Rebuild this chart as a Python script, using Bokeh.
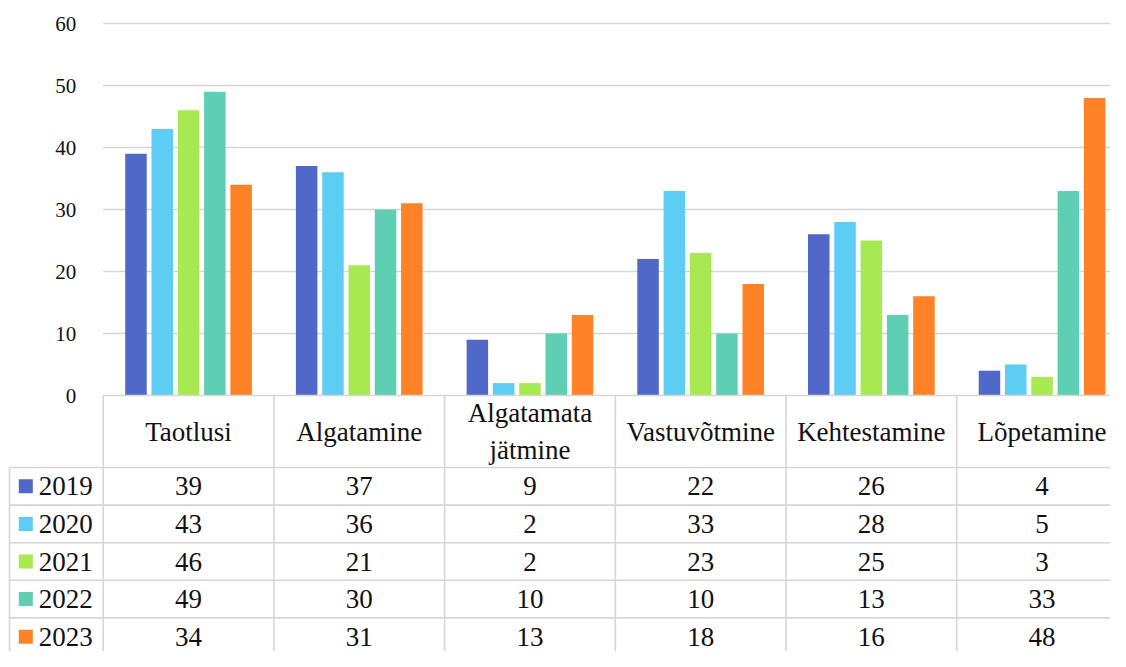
from bokeh.plotting import figure
from bokeh.models import ColumnDataSource, Range1d, LinearAxis, FixedTicker
from bokeh.core.properties import value
from bokeh.embed import file_html
from bokeh.resources import INLINE

# ---------------- data ----------------
CATEGORIES = ["Taotlusi", "Algatamine", "Algatamata\njätmine", "Vastuvõtmine", "Kehtestamine", "Lõpetamine"]
YEARS = ["2019", "2020", "2021", "2022", "2023"]
V2019 = [39, 37, 9, 22, 26, 4]
V2020 = [43, 36, 2, 33, 28, 5]
V2021 = [46, 21, 2, 23, 25, 3]
V2022 = [49, 30, 10, 10, 13, 33]
V2023 = [34, 31, 13, 18, 16, 48]
SERIES = [V2019, V2020, V2021, V2022, V2023]
Y_TICKS = [0, 10, 20, 30, 40, 50, 60]

# ---------------- style / layout ----------------
COLORS = ["#5068C8", "#5DCDF3", "#A7E950", "#5ECFB2", "#FF8226"]
FONT = "Liberation Serif"
TEXT_COLOR = "#111111"
LINE_COLOR = "#D6D6D6"

W, H = 1110, 651
CAT_PX = 170.7           # pixels per category
PX_PER_UNIT = 6.2        # pixels per value unit
LEFT_PX = 102.7          # frame-left to first category
TOP_PX = 395.0           # frame-top to value zero
X0 = -LEFT_PX / CAT_PX
X1 = X0 + W / CAT_PX
Y1 = TOP_PX / PX_PER_UNIT
Y0 = Y1 - H / PX_PER_UNIT

HEADER_H = 72.0 / PX_PER_UNIT
ROW_H = 37.6 / PX_PER_UNIT
LEFT_COL_X = X0 + 9.0 / CAT_PX
BAR_STEP = 26.3 / CAT_PX
BAR_W = 21.5 / CAT_PX

p = figure(width=W, height=H, output_backend="svg", toolbar_location=None,
           x_range=Range1d(X0, X1), y_range=Range1d(Y0, Y1),
           x_axis_location=None, y_axis_location=None,
           min_border=0, min_border_left=0, min_border_right=0,
           min_border_top=0, min_border_bottom=0)
p.outline_line_color = None
p.xgrid.visible = False
p.ygrid.visible = False
p.background_fill_color = "white"

n = len(CATEGORIES)

# gridlines (from tick values)
grid_ticks = [t for t in Y_TICKS if t > 0]
p.segment(x0=[0] * len(grid_ticks), x1=[X1] * len(grid_ticks), y0=grid_ticks, y1=grid_ticks,
          line_color=LINE_COLOR, line_width=1.6)

# bars
for k, (yr, vals, col) in enumerate(zip(YEARS, SERIES, COLORS)):
    xs = [i + 0.5 + (k - 2) * BAR_STEP for i in range(n)]
    src = ColumnDataSource(dict(x=xs, top=vals))
    p.vbar(x="x", top="top", bottom=0, width=BAR_W, source=src,
           fill_color=col, line_color=None)

# ---------------- data table ----------------
header_bottom = -HEADER_H
row_lines = [header_bottom - r * ROW_H for r in range(len(YEARS) + 1)]
table_bottom = row_lines[-1] - ROW_H

# horizontal lines
p.segment(x0=[0], x1=[X1], y0=[0], y1=[0], line_color=LINE_COLOR, line_width=1.6)
p.segment(x0=[LEFT_COL_X] * len(row_lines), x1=[X1] * len(row_lines),
          y0=row_lines, y1=row_lines, line_color=LINE_COLOR, line_width=1.6)
# vertical lines
vx = list(range(n + 1))
p.segment(x0=vx, x1=vx, y0=[0] * len(vx), y1=[table_bottom] * len(vx),
          line_color=LINE_COLOR, line_width=1.6)
p.segment(x0=[LEFT_COL_X], x1=[LEFT_COL_X], y0=[header_bottom], y1=[table_bottom],
          line_color=LINE_COLOR, line_width=1.6)

# header labels
p.text(x=[i + 0.5 for i in range(n)], y=[-HEADER_H / 2] * n, text=CATEGORIES,
       text_font=value(FONT), text_font_size="27px", text_color=TEXT_COLOR,
       text_align="center", text_baseline="middle", text_line_height=1.24)

# rows
for k, (yr, vals, col) in enumerate(zip(YEARS, SERIES, COLORS)):
    yc = header_bottom - (k + 0.5) * ROW_H
    p.scatter(x=[X0 + 25.3 / CAT_PX], y=[yc], marker="square", size=14,
              fill_color=col, line_color=None)
    p.text(x=[X0 + 38.3 / CAT_PX], y=[yc], text=[yr],
           text_font=value(FONT), text_font_size="27px", text_color=TEXT_COLOR,
           text_align="left", text_baseline="middle")
    p.text(x=[i + 0.5 for i in range(n)], y=[yc] * n, text=[str(v) for v in vals],
           text_font=value(FONT), text_font_size="27px", text_color=TEXT_COLOR,
           text_align="center", text_baseline="middle")

# y axis placed at the first category boundary
yaxis = LinearAxis(fixed_location=0, ticker=FixedTicker(ticks=Y_TICKS))
yaxis.axis_line_color = None
yaxis.major_tick_line_color = None
yaxis.minor_tick_line_color = None
yaxis.major_label_text_font = FONT
yaxis.major_label_text_font_size = "21px"
yaxis.major_label_text_color = TEXT_COLOR
yaxis.major_label_standoff = 21
p.add_layout(yaxis, "left")

open("out.html", "w").write(file_html(p, INLINE))
